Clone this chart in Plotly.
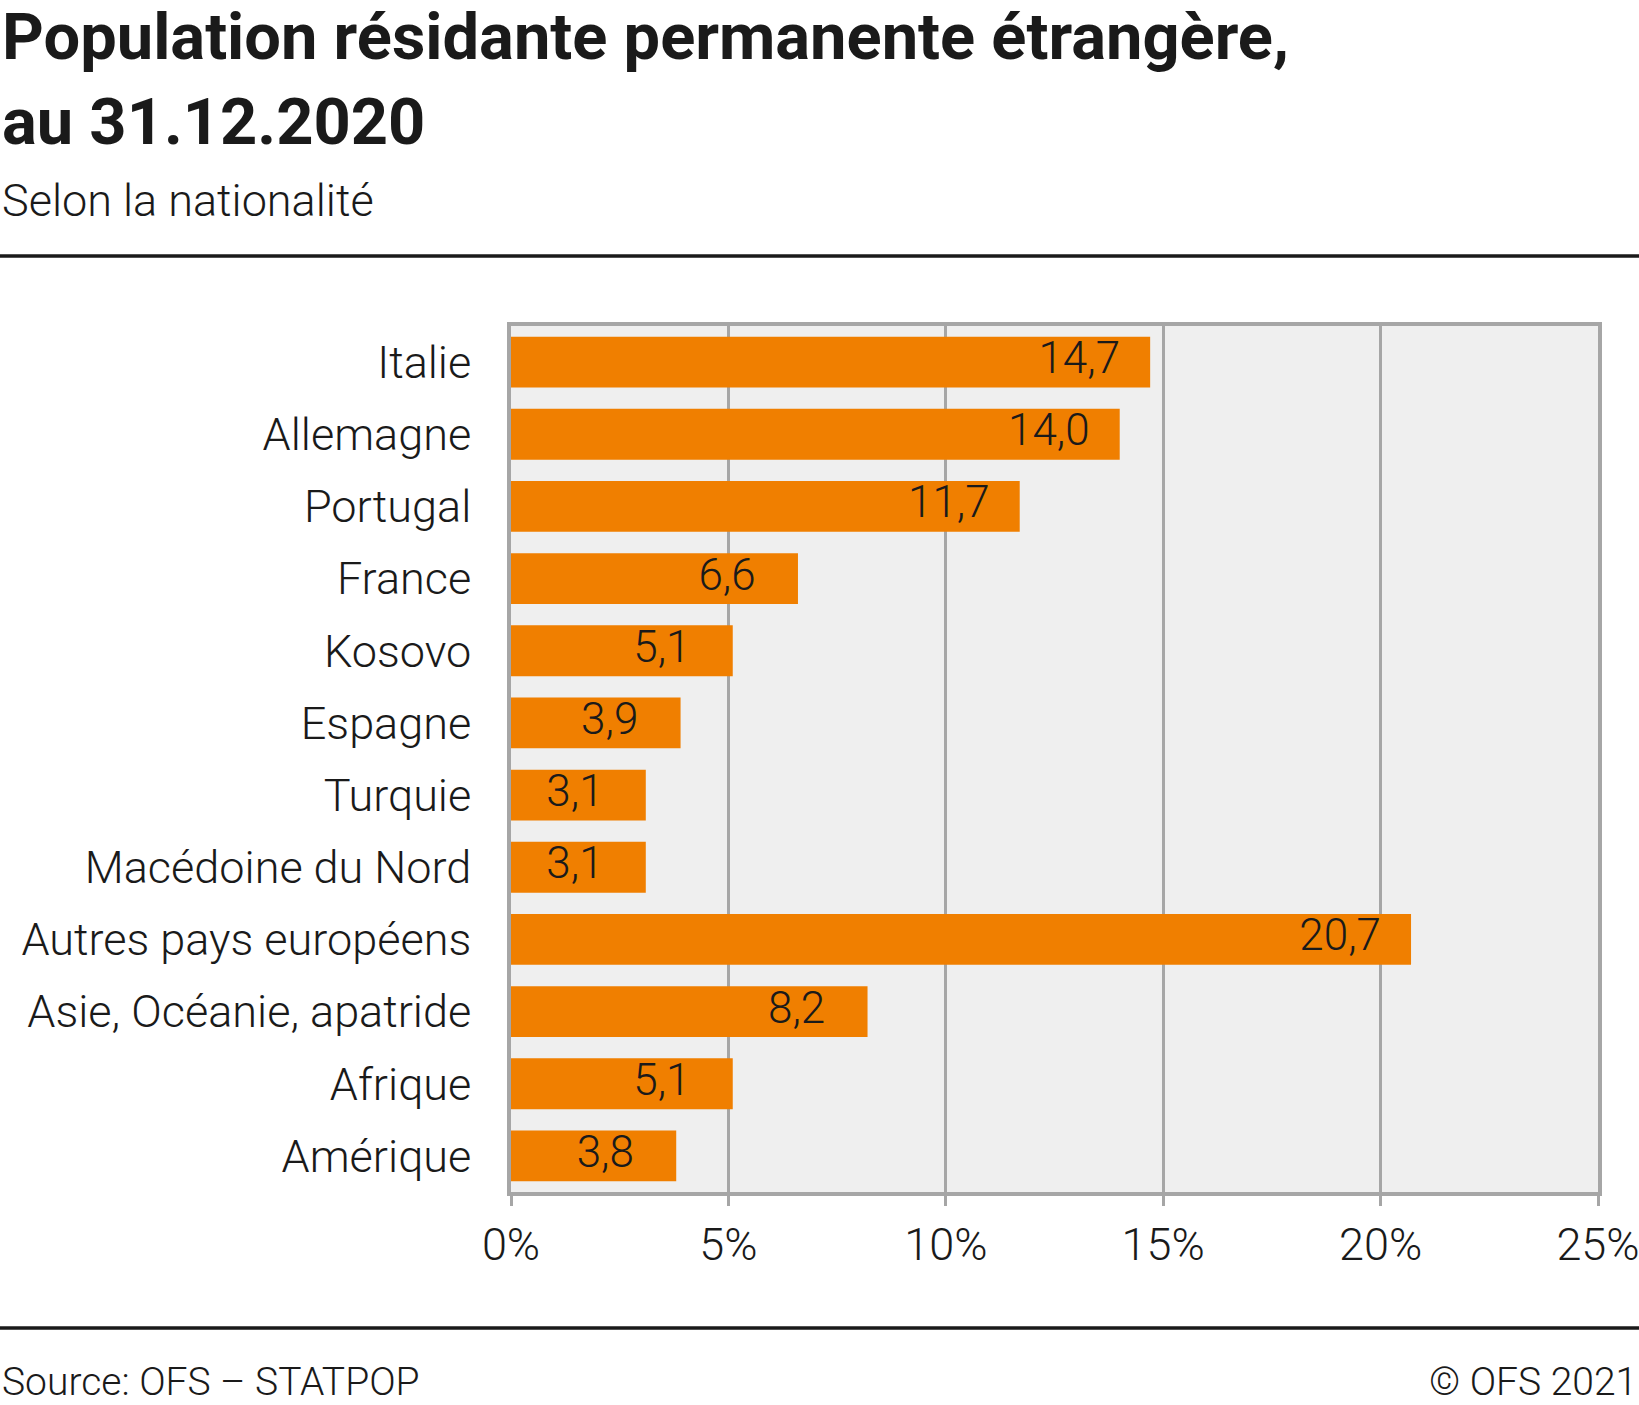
import plotly.graph_objects as go

categories = ["Italie", "Allemagne", "Portugal", "France", "Kosovo", "Espagne",
              "Turquie", "Macédoine du Nord", "Autres pays européens",
              "Asie, Océanie, apatride", "Afrique", "Amérique"]
values = [14.7, 14.0, 11.7, 6.6, 5.1, 3.9, 3.1, 3.1, 20.7, 8.2, 5.1, 3.8]
labels = [f"{v:.1f}".replace(".", ",") for v in values]
tick_vals = [0, 5, 10, 15, 20, 25]
tick_text = ["0%", "5%", "10%", "15%", "20%", "25%"]

title_lines = ["Population résidante permanente étrangère,", "au 31.12.2020"]
subtitle = "Selon la nationalité"
source = "Source: OFS – STATPOP"
copyright_txt = "© OFS 2021"

W, H = 1639, 1405
L, R, T, B = 511, 41, 326, 213
PW, PH = W - L - R, H - T - B
LABEL_OFFSET = 1.63  # label centre sits this far left of the bar end

def px_y(y):
    return (H - B - y) / PH

def px_x(x):
    return (x - L) / PW

GRAY = "#a6a6a6"
ORANGE = "#f07f00"
TXT = "#1a1a1a"

fig = go.Figure()
fig.add_trace(go.Bar(
    y=categories, x=values, orientation="h",
    marker=dict(color=ORANGE, line=dict(width=0)),
    hoverinfo="skip",
))
fig.add_trace(go.Scatter(
    y=categories, x=[v - LABEL_OFFSET for v in values],
    mode="text", text=labels, textposition="middle center",
    textfont=dict(family="Roboto", size=44, color=TXT, weight=300),
    hoverinfo="skip", cliponaxis=False,
))

fig.update_layout(
    width=W, height=H,
    margin=dict(l=L, r=R, t=T, b=B, pad=0, autoexpand=False),
    paper_bgcolor="white", plot_bgcolor="#efefef",
    showlegend=False, bargap=0.295,
    font=dict(family="Roboto", color=TXT),
)
fig.update_xaxes(
    range=[0, 25], tickvals=tick_vals, ticktext=tick_text,
    showgrid=True, gridcolor=GRAY, gridwidth=2.5,
    showline=True, linecolor=GRAY, linewidth=3.5, mirror=True,
    ticks="outside", ticklen=10, tickwidth=2.5, tickcolor=GRAY,
    tickfont=dict(family="Roboto", size=45, color=TXT, weight=300),
    ticklabelstandoff=0, ticklabeloverflow="allow",
    zeroline=False, fixedrange=True, automargin=False,
)
fig.update_yaxes(
    range=[len(categories) - 0.5, -0.5], showgrid=False,
    showline=True, linecolor=GRAY, linewidth=3.5, mirror=True,
    ticks="", tickfont=dict(family="Roboto", size=45, color=TXT, weight=300),
    ticklabelstandoff=27, ticklabeloverflow="allow",
    fixedrange=True, automargin=False,
)

ann = []
ann.append(dict(text=title_lines[0] + "<br>" + title_lines[1], x=px_x(0), y=px_y(-3),
                xref="paper", yref="paper", xanchor="left", yanchor="top",
                align="left", showarrow=False,
                font=dict(family="Roboto", size=65, color=TXT, weight=700)))
ann.append(dict(text=subtitle, x=px_x(0), y=px_y(172),
                xref="paper", yref="paper", xanchor="left", yanchor="top",
                showarrow=False,
                font=dict(family="Roboto", size=45, color=TXT, weight=300)))
ann.append(dict(text=source, x=px_x(0), y=px_y(1357),
                xref="paper", yref="paper", xanchor="left", yanchor="top",
                showarrow=False,
                font=dict(family="Roboto", size=39, color=TXT, weight=300)))
ann.append(dict(text=copyright_txt, x=px_x(W), y=px_y(1357),
                xref="paper", yref="paper", xanchor="right", yanchor="top",
                showarrow=False,
                font=dict(family="Roboto", size=39, color=TXT, weight=300)))
fig.update_layout(annotations=ann)

fig.update_layout(shapes=[
    dict(type="line", xref="paper", yref="paper", x0=px_x(0), x1=px_x(W),
         y0=px_y(256), y1=px_y(256), line=dict(color=TXT, width=3.5)),
    dict(type="line", xref="paper", yref="paper", x0=px_x(0), x1=px_x(W),
         y0=px_y(1328), y1=px_y(1328), line=dict(color=TXT, width=3.5)),
])

fig.write_html("out.html", config={"displayModeBar": False},
               post_script="document.body.style.margin='0';document.body.style.overflow='hidden';")
